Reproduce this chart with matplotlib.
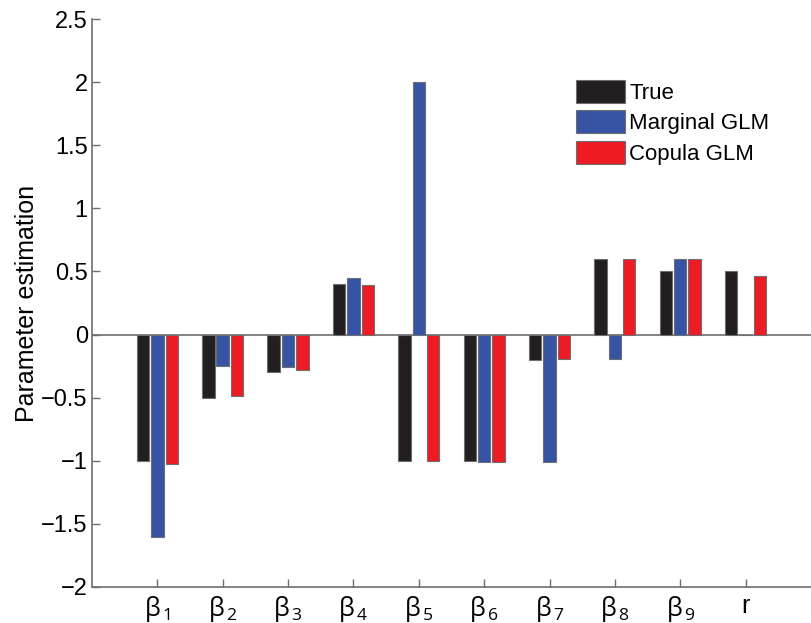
import numpy as np
import matplotlib.pyplot as plt

labels = [r'$\beta_{\,1}$', r'$\beta_{\,2}$', r'$\beta_{\,3}$', r'$\beta_{\,4}$', r'$\beta_{\,5}$',
          r'$\beta_{\,6}$', r'$\beta_{\,7}$', r'$\beta_{\,8}$', r'$\beta_{\,9}$', 'r']
true_vals = [-1.0, -0.5, -0.3, 0.4, -1.0, -1.0, -0.2, 0.6, 0.5, 0.5]
marginal = [-1.6, -0.25, -0.26, 0.45, 2.0, -1.01, -1.01, -0.19, 0.6, 0.0]
copula = [-1.025, -0.485, -0.28, 0.39, -1.0, -1.01, -0.19, 0.6, 0.6, 0.46]

plt.rcParams['font.family'] = ['Liberation Sans', 'DejaVu Sans']
plt.rcParams['mathtext.fontset'] = 'custom'
plt.rcParams['mathtext.rm'] = 'Open Sans'
plt.rcParams['mathtext.it'] = 'Open Sans'

fig = plt.figure(figsize=(8.11, 6.23), dpi=100)
ax = fig.add_axes([0.1134, 0.0578, 0.8866, 0.9117])

x = np.arange(1, len(labels) + 1)
w = 0.19
off = 0.22
edge = '#6d6e71'
ax.bar(x - off, true_vals, w, color='#231f20', edgecolor=edge, linewidth=0.8, label='True')
ax.bar(x, marginal, w, color='#3653a4', edgecolor=edge, linewidth=0.8, label='Marginal GLM')
ax.bar(x + off, copula, w, color='#ed1c24', edgecolor=edge, linewidth=0.8, label='Copula GLM')
ax.axhline(0, color=edge, linewidth=1.2, zorder=0.5)

ax.set_xlim(0, 11)
ax.set_ylim(-2, 2.5)
ax.set_xticks(x)
ax.set_xticklabels(labels, fontsize=18)
ax.set_yticks(np.arange(-2, 2.51, 0.5))
ax.set_yticklabels(['\u22122', '\u22121.5', '\u22121', '\u22120.5', '0', '0.5', '1', '1.5', '2', '2.5'],
                   fontsize=17)
ax.set_ylabel('Parameter estimation', fontsize=18, labelpad=2)

for s in ['top', 'right']:
    ax.spines[s].set_visible(False)
for s in ['left', 'bottom']:
    ax.spines[s].set_color(edge)
    ax.spines[s].set_linewidth(1.2)
ax.tick_params(direction='in', length=6, color=edge, width=1, pad=3)
ax.tick_params(axis='x', pad=5)

ax.legend(loc='upper left', bbox_to_anchor=(0.673, 0.893), frameon=False, fontsize=16,
          handlelength=2.2, handleheight=1.2, handletextpad=0.2, labelspacing=0.3,
          borderpad=0, borderaxespad=0)

fig.savefig('out.png', dpi=100)
